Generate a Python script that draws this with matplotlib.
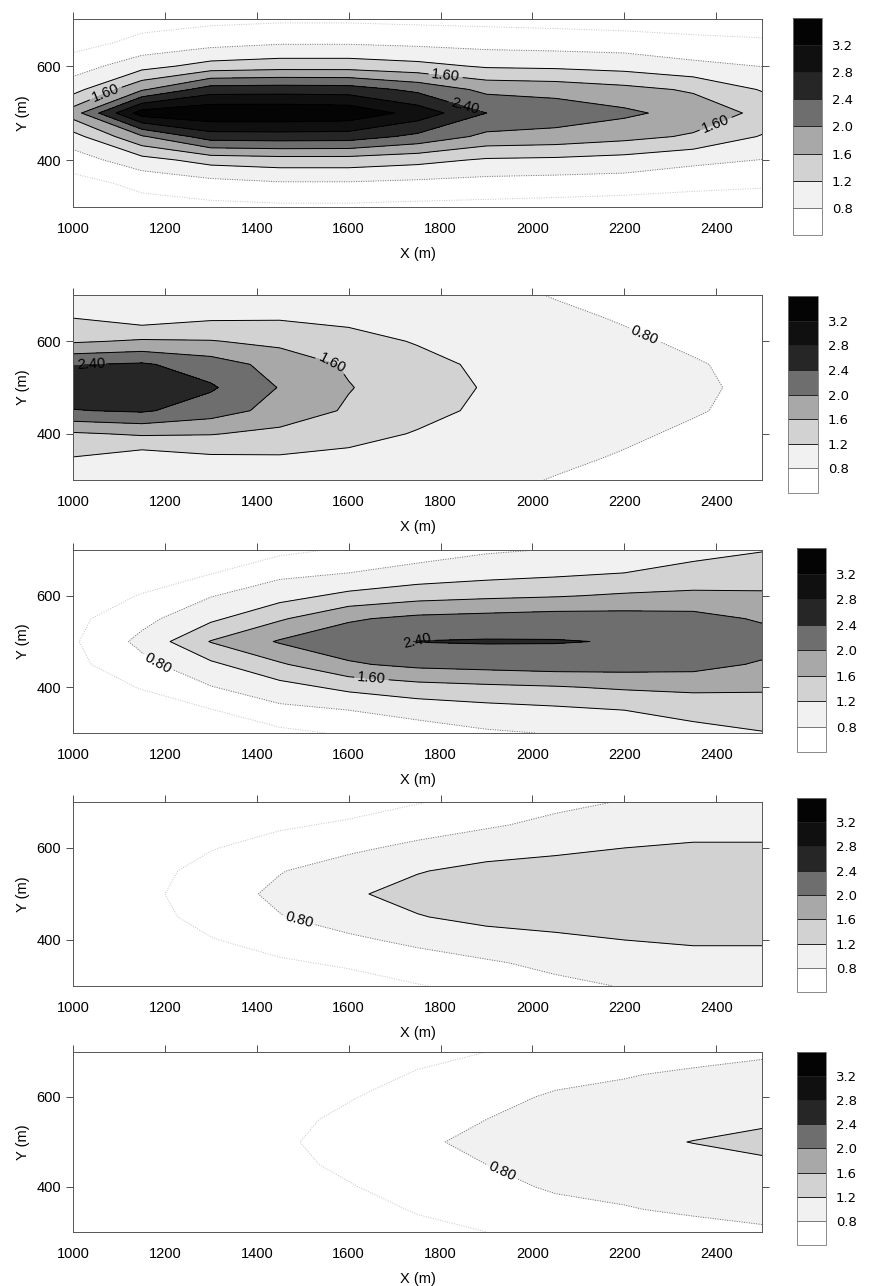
import numpy as np
import matplotlib
matplotlib.use("Agg")
import matplotlib.pyplot as plt

plt.rcParams["font.family"] = ["Liberation Sans", "DejaVu Sans"]

# grid: x along the plume, offset = distance from the centreline y = 500 m
x_m = [1000, 1150, 1300, 1450, 1600, 1750, 1900, 2050, 2200, 2350, 2500]
offset_m = [0, 50, 100, 150, 200]

# values, one row per offset (0, 50, 100, 150, 200 m)
panel1 = [
    [1.80, 3.40, 3.55, 3.55, 3.50, 3.05, 2.40, 2.25, 2.08, 1.85, 1.50],
    [1.05, 1.95, 2.60, 2.62, 2.60, 2.30, 1.90, 1.85, 1.72, 1.55, 1.17],
    [0.60, 1.05, 1.35, 1.42, 1.42, 1.32, 1.15, 1.12, 1.05, 0.90, 0.79],
    [0.25, 0.50, 0.65, 0.75, 0.75, 0.70, 0.65, 0.62, 0.60, 0.50, 0.45],
    [0.10, 0.25, 0.30, 0.33, 0.33, 0.30, 0.28, 0.25, 0.20, 0.20, 0.20],
]
panel2 = [
    [2.70, 2.75, 2.45, 1.98, 1.62, 1.38, 1.17, 1.02, 0.93, 0.86, 0.72],
    [2.38, 2.45, 2.20, 1.85, 1.55, 1.33, 1.12, 1.00, 0.91, 0.83, 0.70],
    [1.55, 1.65, 1.62, 1.50, 1.35, 1.17, 1.05, 0.95, 0.86, 0.74, 0.62],
    [1.20, 1.00, 1.15, 1.17, 1.10, 1.00, 0.97, 0.88, 0.77, 0.62, 0.52],
    [0.95, 0.90, 0.95, 0.95, 0.95, 0.93, 0.90, 0.78, 0.65, 0.50, 0.42],
]
panel3 = [
    [0.35, 0.91, 1.62, 2.04, 2.25, 2.41, 2.43, 2.42, 2.38, 2.30, 2.20],
    [0.30, 0.68, 1.12, 1.55, 1.95, 2.10, 2.15, 2.20, 2.18, 2.15, 1.95],
    [0.20, 0.42, 0.78, 1.05, 1.30, 1.45, 1.52, 1.57, 1.65, 1.68, 1.65],
    [0.10, 0.22, 0.38, 0.70, 0.80, 0.95, 1.05, 1.12, 1.20, 1.35, 1.42],
    [0.05, 0.10, 0.20, 0.30, 0.45, 0.60, 0.75, 0.82, 0.90, 1.05, 1.18],
]
panel4 = [
    [0.20, 0.30, 0.60, 0.89, 1.15, 1.32, 1.42, 1.48, 1.52, 1.55, 1.55],
    [0.18, 0.27, 0.52, 0.78, 1.00, 1.18, 1.30, 1.36, 1.42, 1.46, 1.46],
    [0.15, 0.20, 0.38, 0.55, 0.72, 0.90, 1.05, 1.12, 1.20, 1.25, 1.25],
    [0.10, 0.15, 0.25, 0.35, 0.45, 0.60, 0.75, 0.90, 0.98, 1.05, 1.05],
    [0.08, 0.10, 0.15, 0.20, 0.25, 0.38, 0.50, 0.70, 0.82, 0.88, 0.90],
]
panel5 = [
    [0.10, 0.15, 0.22, 0.35, 0.52, 0.72, 0.92, 1.02, 1.10, 1.21, 1.32],
    [0.09, 0.14, 0.20, 0.32, 0.46, 0.64, 0.80, 0.93, 0.98, 1.05, 1.12],
    [0.08, 0.12, 0.18, 0.27, 0.38, 0.52, 0.68, 0.85, 0.88, 0.95, 1.00],
    [0.07, 0.10, 0.15, 0.22, 0.30, 0.42, 0.55, 0.68, 0.78, 0.85, 0.90],
    [0.06, 0.08, 0.12, 0.18, 0.23, 0.33, 0.40, 0.55, 0.62, 0.68, 0.75],
]

levels = [0.4, 0.8, 1.2, 1.6, 2.0, 2.4, 2.8, 3.2, 3.6]
label_levels = [0.8, 1.6, 2.4]
plain_levels = [0.4, 1.2, 2.0, 2.8, 3.2]
cbar_ticks = [0.8, 1.2, 1.6, 2.0, 2.4, 2.8, 3.2]
x_ticks = [1000, 1200, 1400, 1600, 1800, 2000, 2200, 2400]
y_ticks = [400, 600]

band_colors = ["#ffffff", "#f1f1f1", "#d2d2d2", "#a8a8a8",
               "#6e6e6e", "#262626", "#101010", "#040404"]
dots = (0, (1, 1.5))
plain_colors = ["#c4c4c4", "k", "k", "k", "k"]
plain_styles = [dots, "solid", "solid", "solid", "solid"]
label_colors = ["#707070", "k", "k"]
label_styles = [dots, "solid", "solid"]

panels = [panel1, panel2, panel3, panel4, panel5]
# where the inline labels sit
label_spots = [
    [(1075, 532), (1810, 570), (2400, 475), (1850, 505)],
    [(1040, 545), (1560, 540), (2240, 605)],
    [(1190, 460), (1650, 425), (1750, 500)],
    [(1495, 455)],
    [(1940, 445)],
]
ax_rects = [
    [0.084, 0.8390, 0.793, 0.1462],
    [0.084, 0.6267, 0.793, 0.1439],
    [0.084, 0.4300, 0.793, 0.1423],
    [0.084, 0.2333, 0.793, 0.1431],
    [0.084, 0.0420, 0.793, 0.1400],
]
cb_rects = [
    [0.9125, 0.8173, 0.0334, 0.1687],
    [0.9068, 0.6166, 0.0345, 0.1532],
    [0.9171, 0.4152, 0.0334, 0.1586],
    [0.9171, 0.2286, 0.0334, 0.1509],
    [0.9171, 0.0319, 0.0334, 0.1501],
]

xs = np.array(x_m)
off = np.array(offset_m)
ys = np.concatenate([500 - off[::-1], 500 + off[1:]])

fig = plt.figure(figsize=(8.69, 12.86), dpi=100)

for half, spots, rect, cbrect in zip(panels, label_spots, ax_rects, cb_rects):
    half = np.array(half)
    # plume is symmetric about the centreline
    z = np.vstack([half[::-1], half[1:]])
    ax = fig.add_axes(rect)
    cf = ax.contourf(xs, ys, z, levels=levels, colors=band_colors)
    ax.contour(xs, ys, z, levels=plain_levels, colors=plain_colors,
               linewidths=0.7, linestyles=plain_styles)
    cs = ax.contour(xs, ys, z, levels=label_levels, colors=label_colors,
                    linewidths=0.7, linestyles=label_styles)
    ax.clabel(cs, manual=spots, fmt="%.2f", fontsize=10.5, colors="k",
              inline=True, inline_spacing=3)

    ax.set_xlim(1000, 2500)
    ax.set_ylim(300, 700)
    ax.set_xticks(x_ticks)
    ax.set_yticks(y_ticks)
    ax.tick_params(axis="both", direction="out", length=5, width=0.6,
                   colors="#333333", labelcolor="k", labelsize=10.5,
                   top=True, right=True)
    ax.tick_params(axis="x", bottom=False, pad=6)
    for sp in ax.spines.values():
        sp.set_linewidth(0.7)
        sp.set_color("#555555")
    ax.set_xlabel("X (m)", fontsize=10.5, labelpad=8)
    ax.set_ylabel("Y (m)", fontsize=10.5, labelpad=5)

    cax = fig.add_axes(cbrect)
    cb = fig.colorbar(cf, cax=cax, ticks=cbar_ticks)
    cb.ax.set_yticklabels(["%.1f" % t for t in cbar_ticks],
                          family="DejaVu Sans")
    cb.ax.tick_params(length=0, labelsize=9.5, pad=7)
    cb.outline.set_linewidth(0.6)
    cb.outline.set_edgecolor("#777777")
    for lev in cbar_ticks:
        cb.ax.axhline(lev, color="#222222" if lev > 0.8 else "#777777",
                      linewidth=0.7)

fig.savefig("out.png", dpi=100)
plt.close(fig)
